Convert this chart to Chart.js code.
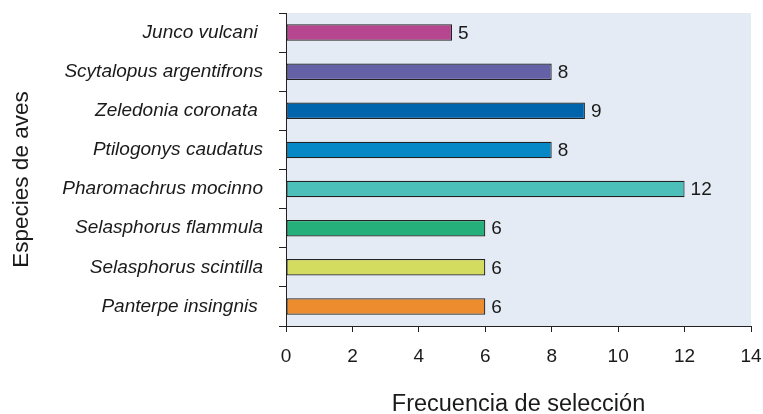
<!DOCTYPE html>
<html>
<head>
<meta charset="utf-8">
<script src="https://cdn.jsdelivr.net/npm/chart.js@4/dist/chart.umd.min.js"></script>
<style>
  html, body { margin: 0; padding: 0; background: #fff; }
  #wrap { width: 763px; height: 414px; }
</style>
</head>
<body>
<div id="wrap"><canvas id="chart"></canvas></div>
<script>
'use strict';

/* ── Data ───────────────────────────────────────────────── */
const especies = [
  'Junco vulcani ',
  'Scytalopus argentifrons',
  'Zeledonia coronata ',
  'Ptilogonys caudatus',
  'Pharomachrus mocinno',
  'Selasphorus flammula',
  'Selasphorus scintilla',
  'Panterpe insingnis '
];
const frecuencia = [5, 8, 9, 8, 12, 6, 6, 6];
const colores = ['#b5468f', '#6561a6', '#0064ad', '#0687c6', '#4cbfba', '#25b07b', '#d4dc5f', '#ec8c2f'];
const xTicks = [0, 2, 4, 6, 8, 10, 12, 14];
const yTitle = 'Especies de aves';

const FONT = 'Liberation Sans, Arial, Helvetica, sans-serif';

/* ── Plugins ────────────────────────────────────────────── */
const plotBg = {
  id: 'plotBg',
  beforeDraw(chart) {
    const { ctx, chartArea: a } = chart;
    ctx.save();
    ctx.fillStyle = '#e5ebf4';
    ctx.fillRect(a.left, a.top, a.right - a.left, a.bottom - a.top);
    ctx.restore();
  }
};

const valueLabels = {
  id: 'valueLabels',
  afterDatasetsDraw(chart) {
    const { ctx } = chart;
    const meta = chart.getDatasetMeta(0);
    ctx.save();
    ctx.font = `19px ${FONT}`;
    ctx.fillStyle = '#1a1a1a';
    ctx.textAlign = 'left';
    ctx.textBaseline = 'middle';
    meta.data.forEach((bar, i) => {
      ctx.fillText(String(frecuencia[i]), bar.x + 6, bar.y + 1);
    });
    ctx.restore();
  }
};

// y title sits a bit below the axis middle in the original
const sideTitle = {
  id: 'sideTitle',
  afterDraw(chart) {
    const { ctx, chartArea: a } = chart;
    ctx.save();
    ctx.translate(22, (a.top + a.bottom) / 2 + 10);
    ctx.rotate(-Math.PI / 2);
    ctx.font = `22.5px ${FONT}`;
    ctx.fillStyle = '#1a1a1a';
    ctx.textAlign = 'center';
    ctx.textBaseline = 'middle';
    ctx.fillText(yTitle, 0, 0);
    ctx.restore();
  }
};

/* ── Chart ──────────────────────────────────────────────── */
new Chart(document.getElementById('chart'), {
  type: 'bar',
  data: {
    labels: especies,
    datasets: [{
      data: frecuencia,
      backgroundColor: colores,
      borderColor: '#222',
      borderWidth: 1.2,
      borderSkipped: false,
      categoryPercentage: 1,
      barPercentage: 0.42
    }]
  },
  options: {
    indexAxis: 'y',
    responsive: true,
    maintainAspectRatio: false,
    animation: false,
    layout: { padding: { left: 0, top: 13, right: 12, bottom: 0 } },
    plugins: { legend: { display: false }, tooltip: { enabled: false } },
    scales: {
      x: {
        min: 0,
        max: 14,
        afterBuildTicks(axis) { axis.ticks = xTicks.map(v => ({ value: v })); },
        afterFit(axis) {
          axis.height = 88;
          axis.paddingLeft = 0;
          axis.paddingRight = 0;
        },
        border: { display: true, color: '#222', width: 1 },
        grid: { drawOnChartArea: false, drawTicks: true, tickLength: 6, color: '#222' },
        ticks: { font: { size: 19, family: FONT }, color: '#1a1a1a', padding: 13 },
        title: {
          display: true,
          text: 'Frecuencia de selección',
          font: { size: 23.5, family: FONT },
          color: '#1a1a1a',
          padding: { top: 8, bottom: -5 }
        }
      },
      y: {
        afterFit(axis) {
          axis.width = 286;
          axis.paddingTop = 0;
          axis.paddingBottom = 0;
        },
        border: { display: true, color: '#222', width: 1 },
        grid: { drawOnChartArea: false, drawTicks: true, tickLength: 7, color: '#222', offset: true },
        ticks: { font: { size: 19, style: 'italic', family: FONT }, color: '#1a1a1a', padding: 16 },
        title: { display: false }
      }
    }
  },
  plugins: [plotBg, valueLabels, sideTitle]
});
</script>
</body>
</html>
